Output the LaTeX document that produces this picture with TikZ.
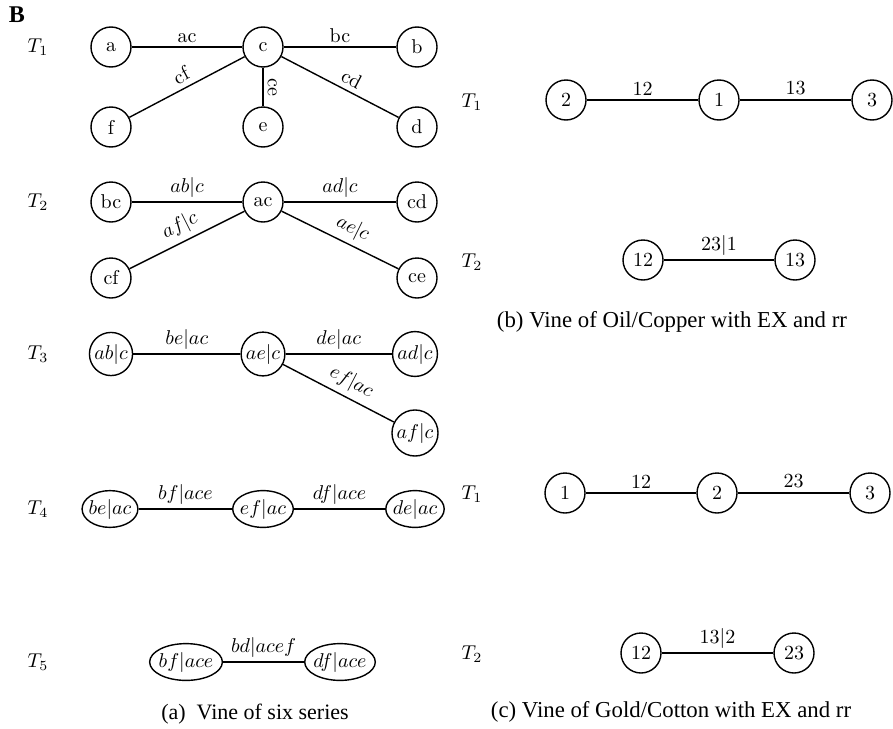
\documentclass[tikz,border=0pt]{standalone}
\usepackage{fontspec}
\newfontfamily\capfont{Liberation Serif}
\usetikzlibrary{shapes.geometric}
\tikzset{
  vtx/.style={circle, draw, line width=0.7pt, minimum size=20pt, inner sep=0.8pt, font=\fontsize{10}{12}\selectfont},
  evtx/.style={ellipse, draw, line width=0.7pt, inner xsep=-0.8pt, inner ysep=1.5pt, minimum height=17pt, font=\fontsize{10}{12}\selectfont},
  edge/.style={line width=0.7pt},
  lab/.style={font=\fontsize{10}{12}\selectfont, inner sep=2pt},
  slab/.style={lab, above, sloped, inner sep=2.6pt},
  tree/.style={font=\fontsize{10}{12}\selectfont},
  captext/.style={font=\capfont\fontsize{11.4}{13}\selectfont},
}
\begin{document}
\begin{tikzpicture}[x=0.5pt,y=-0.5pt]
\useasboundingbox (0,0) rectangle (893,728);

\node[font=\capfont\bfseries\fontsize{12}{14}\selectfont] (B) at (17,15) {B};

% ---- (a) six series: tree T1
\node[tree] (a1) at (38,47) {$T_1$};
\node[vtx] (a) at (111,47) {a};
\node[vtx] (c) at (263,47) {c};
\node[vtx] (b) at (417,47) {b};
\node[vtx] (f) at (111,127) {f};
\node[vtx] (e) at (263,127) {e};
\node[vtx] (d) at (417,127) {d};
\draw[edge] (a) -- node[lab, above] {ac} (c);
\draw[edge] (c) -- node[lab, above] {bc} (b);
\draw[edge] (f) -- node[slab] {cf} (c);
\draw[edge] (c) -- node[lab, rotate=-90, anchor=south] {ce} (e);
\draw[edge] (c) -- node[slab, pos=0.55] {cd} (d);

% tree T2
\node[tree] (a2) at (38,202) {$T_2$};
\node[vtx] (bc) at (111,202) {bc};
\node[vtx] (ac) at (263,202) {ac};
\node[vtx] (cd) at (417,202) {cd};
\node[vtx] (cf) at (111,278) {cf};
\node[vtx] (ce) at (417,278) {ce};
\draw[edge] (bc) -- node[lab, above] {$ab|c$} (ac);
\draw[edge] (ac) -- node[lab, above] {$ad|c$} (cd);
\draw[edge] (cf) -- node[slab] {$af|c$} (ac);
\draw[edge] (ac) -- node[slab, pos=0.55] {$ae|c$} (ce);

% tree T3
\node[tree] (a3) at (38,354) {$T_3$};
\node[vtx] (abc) at (111,354) {$ab|c$};
\node[vtx] (aec) at (263,354) {$ae|c$};
\node[vtx] (adc) at (415,354) {$ad|c$};
\node[vtx] (afc) at (415,433) {$af|c$};
\draw[edge] (abc) -- node[lab, above] {$be|ac$} (aec);
\draw[edge] (aec) -- node[lab, above] {$de|ac$} (adc);
\draw[edge] (aec) -- node[slab, pos=0.55] {$ef|ac$} (afc);

% tree T4
\node[tree] (a4) at (38,509) {$T_4$};
\node[evtx] (beac) at (110,509) {$be|ac$};
\node[evtx] (efac) at (263,509) {$ef|ac$};
\node[evtx] (deac) at (415,509) {$de|ac$};
\draw[edge] (beac) -- node[lab, above] {$bf|ace$} (efac);
\draw[edge] (efac) -- node[lab, above] {$df|ace$} (deac);

% tree T5
\node[tree] (a5) at (38,662) {$T_5$};
\node[evtx] (bface) at (186,662) {$bf|ace$};
\node[evtx] (dface) at (340,662) {$df|ace$};
\draw[edge] (bface) -- node[lab, above] {$bd|acef$} (dface);

\node[captext, font=\capfont\fontsize{11}{13}\selectfont] (capa) at (255,714) {(a)\ \ Vine of six series};

% ---- (b) Oil/Copper
\node[tree] (b1) at (472,102) {$T_1$};
\node[vtx] (b2n) at (566,100) {2};
\node[vtx] (b1n) at (719,100) {1};
\node[vtx] (b3n) at (872,100) {3};
\draw[edge] (b2n) -- node[lab, above] {12} (b1n);
\draw[edge] (b1n) -- node[lab, above] {13} (b3n);

\node[tree] (b2) at (472,262) {$T_2$};
\node[vtx] (b12) at (643,260) {12};
\node[vtx] (b13) at (795,260) {13};
\draw[edge] (b12) -- node[lab, above] {23$|$1} (b13);

\node[captext] (capb) at (672,322) {(b) Vine of Oil/Copper with EX and rr};

% ---- (c) Gold/Cotton
\node[tree] (c1) at (472,494) {$T_1$};
\node[vtx] (c1n) at (565,493) {1};
\node[vtx] (c2n) at (717,493) {2};
\node[vtx] (c3n) at (870,493) {3};
\draw[edge] (c1n) -- node[lab, above] {12} (c2n);
\draw[edge] (c2n) -- node[lab, above] {23} (c3n);

\node[tree] (c2) at (472,654) {$T_2$};
\node[vtx] (c12) at (641,653) {12};
\node[vtx] (c23) at (794,653) {23};
\draw[edge] (c12) -- node[lab, above] {13$|$2} (c23);

\node[captext] (capc) at (671,712) {(c) Vine of Gold/Cotton with EX and rr};
\end{tikzpicture}
\end{document}
